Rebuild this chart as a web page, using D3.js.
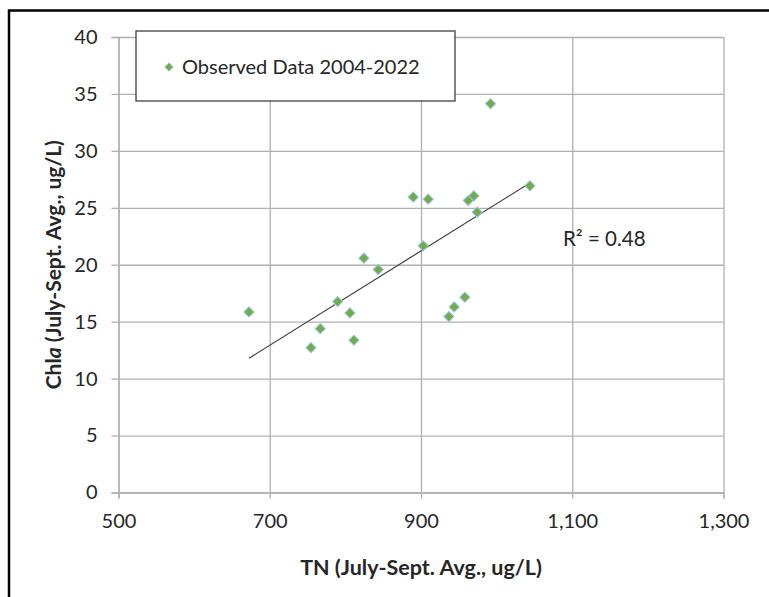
<!DOCTYPE html>
<html><head><meta charset="utf-8">
<script src="https://cdn.jsdelivr.net/npm/d3@7"></script>
<style>
body{margin:0;background:#fff}
svg{display:block}
text{font-family:Lato, "Open Sans", sans-serif;fill:#262626}
</style>
</head><body>
<svg id="chart" width="769" height="597"></svg>
<script>
// ---- data ----
const tnValues   = [672.5, 754.5, 766.8, 789.8, 806.0, 811.3, 824.5, 843.4, 889.7, 902.9, 909.5, 936.9, 943.9, 958.0, 962.4, 969.9, 974.3, 992.0, 1044.0];
const chlaValues = [15.86, 12.72, 14.39, 16.77, 15.77, 13.37, 20.58, 19.58, 25.94, 21.66, 25.76, 15.45, 16.30, 17.15, 25.64, 26.05, 24.62, 34.14, 26.93];
const xTickValues = [500, 700, 900, 1100, 1300];
const yTickValues = [0, 5, 10, 15, 20, 25, 30, 35, 40];
const legendLabel = "Observed Data 2004-2022";
const r2Label = "R² = 0.48";
const xTitle = "TN (July-Sept. Avg., ug/L)";

// ---- layout ----
const svg = d3.select("#chart");
const plot = {left: 118.5, right: 723.5, top: 37, bottom: 492.5};
const x = d3.scaleLinear().domain([500, 1300]).range([plot.left, plot.right]);
const y = d3.scaleLinear().domain([0, 40]).range([plot.bottom, plot.top]);
const gridColor = "#b0b0b0";
const green = "#70ad47";
const markerStroke = "#9dc3e6";

// outer frame (cropped box: top + left visible)
svg.append("path")
  .attr("d", `M9,597 V10.5 H769`)
  .attr("fill", "none").attr("stroke", "#000").attr("stroke-width", 2.5);

// gridlines
const gx = svg.append("g").attr("transform", `translate(0,${plot.bottom})`)
  .call(d3.axisBottom(x).tickValues(xTickValues).tickSize(-(plot.bottom - plot.top)).tickFormat(""));
const gy = svg.append("g").attr("transform", `translate(${plot.left},0)`)
  .call(d3.axisLeft(y).tickValues(yTickValues).tickSize(-(plot.right - plot.left)).tickFormat(""));
[gx, gy].forEach(g => {
  g.select(".domain").remove();
  g.selectAll(".tick line").attr("stroke", gridColor).attr("stroke-width", 1.3);
});

// axes with outside ticks and labels
const fmt = d3.format(",");
const ax = svg.append("g").attr("transform", `translate(0,${plot.bottom})`)
  .call(d3.axisBottom(x).tickValues(xTickValues).tickSize(6).tickPadding(15).tickFormat(fmt));
const ay = svg.append("g").attr("transform", `translate(${plot.left},0)`)
  .call(d3.axisLeft(y).tickValues(yTickValues).tickSize(7).tickPadding(14).tickFormat(d3.format("d")));
[ax, ay].forEach(g => {
  g.select(".domain").attr("stroke", gridColor).attr("stroke-width", 1.3);
  g.selectAll(".tick line").attr("stroke", gridColor).attr("stroke-width", 1.3);
  g.selectAll(".tick text").attr("font-size", 20).attr("font-family", "Lato").attr("fill", "#262626");
});

// linear trendline (least squares)
const n = tnValues.length;
const mx = d3.mean(tnValues), my = d3.mean(chlaValues);
let sxy = 0, sxx = 0;
for (let i = 0; i < n; i++) { sxy += (tnValues[i]-mx)*(chlaValues[i]-my); sxx += (tnValues[i]-mx)**2; }
const slope = sxy / sxx, intercept = my - slope * mx;
const [xmin, xmax] = d3.extent(tnValues);
svg.append("line")
  .attr("x1", x(xmin)).attr("y1", y(intercept + slope * xmin))
  .attr("x2", x(xmax)).attr("y2", y(intercept + slope * xmax))
  .attr("stroke", "#404040").attr("stroke-width", 1.2);

// markers
const diamond = d3.symbol().type(d3.symbolSquare).size(52);
svg.append("g").selectAll("path").data(tnValues.map((v, i) => [v, chlaValues[i]]))
  .join("path")
  .attr("d", diamond)
  .attr("transform", d => `translate(${x(d[0])},${y(d[1])}) rotate(45)`)
  .attr("fill", green).attr("stroke", markerStroke).attr("stroke-width", 1);

// R² label
svg.append("text").attr("x", 563).attr("y", 246).attr("font-size", 20.5).text(r2Label);

// legend
const lg = svg.append("g");
lg.append("rect").attr("x", 136).attr("y", 31).attr("width", 319).attr("height", 70)
  .attr("fill", "#fff").attr("stroke", "#404040").attr("stroke-width", 1.3);
lg.append("path").attr("d", d3.symbol().type(d3.symbolSquare).size(36))
  .attr("transform", "translate(169,67) rotate(45)")
  .attr("fill", green).attr("stroke", markerStroke).attr("stroke-width", 0.8);
lg.append("text").attr("x", 182).attr("y", 67).attr("dy", "0.35em").attr("font-size", 20).text(legendLabel);

// axis titles (bold)
const xt = svg.append("text").attr("x", (plot.left + plot.right) / 2).attr("y", 567)
  .attr("text-anchor", "middle").attr("dy", "0.35em")
  .attr("font-weight", "bold").attr("font-size", 21.5).text(xTitle);

const yt = svg.append("text").attr("transform", `translate(54,${(plot.top + plot.bottom) / 2}) rotate(-90)`)
  .attr("text-anchor", "middle").attr("dy", "0.35em")
  .attr("font-weight", "bold").attr("font-size", 21);
yt.append("tspan").text("Chl");
yt.append("tspan").attr("font-style", "italic").text("a");
yt.append("tspan").text(" (July-Sept. Avg., ug/L)");
</script>
</body></html>
